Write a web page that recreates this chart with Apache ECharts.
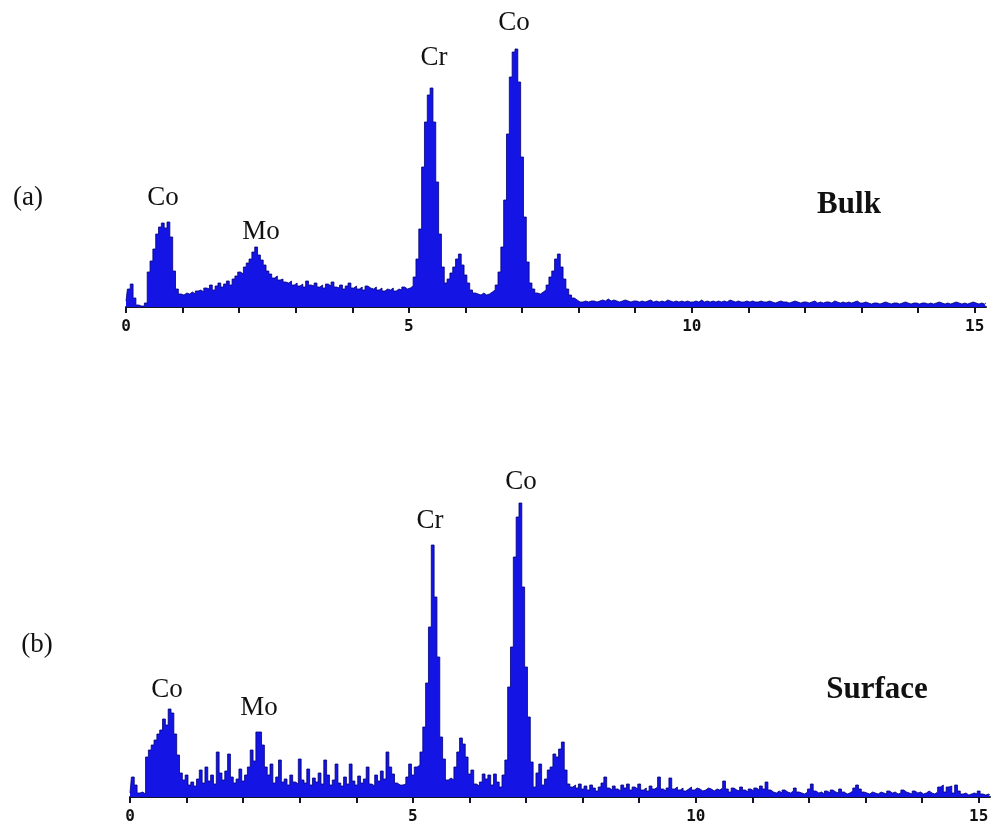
<!DOCTYPE html>
<html lang="en">

<head>
    <meta charset="UTF-8" />
    <title>EDS spectra - Bulk / Surface</title>
    <script src="https://cdn.jsdelivr.net/npm/echarts@6.0.0/dist/echarts.min.js"></script>
    <style>
        html, body { margin: 0; padding: 0; background: #fff; }
        #lienzo { width: 995px; height: 829px; }
    </style>
</head>

<body>
    <div id="lienzo"></div>

    <script>
        // energy channels: 0 to 15.2 keV, one reading every 0.05 keV
        const energyStep = 0.05;
        const tickLabels = [0, 5, 10, 15];
        const tickMarks = [0, 1, 2, 3, 4, 5, 6, 7, 8, 9, 10, 11, 12, 13, 14, 15];

        // (a) Bulk - counts (one row per keV)
        const bulkCounts = [
            6, 18, 23, 9, 2, 1, 1, 4, 35, 46, 58, 73, 80, 84, 79, 85, 70, 36, 18, 13,
            12, 14, 13, 15, 13, 16, 17, 15, 19, 18, 22, 17, 21, 24, 20, 23, 26, 22, 28, 31,
            35, 33, 40, 44, 48, 55, 60, 52, 47, 42, 36, 33, 29, 31, 27, 28, 25, 24, 26, 22,
            24, 21, 23, 20, 26, 22, 21, 24, 20, 22, 19, 23, 21, 25, 20, 19, 22, 18, 21, 24,
            19, 21, 18, 20, 17, 21, 19, 18, 20, 17, 19, 16, 18, 17, 19, 16, 18, 17, 20, 18,
            19, 21, 30, 48, 78, 140, 185, 212, 219, 185, 125, 73, 40, 24, 28, 34, 40, 48, 53, 42,
            32, 24, 17, 14, 13, 12, 14, 12, 13, 15, 17, 22, 35, 60, 107, 173, 230, 255, 258, 225,
            150, 90, 45, 24, 18, 14, 13, 15, 17, 22, 30, 36, 48, 53, 40, 28, 18, 12, 9, 7,
            5, 5, 6, 5, 6, 6, 5, 6, 7, 6, 8, 6, 7, 6, 5, 6, 7, 6, 5, 6,
            6, 5, 6, 5, 6, 7, 5, 6, 5, 6, 5, 7, 6, 5, 6, 5, 6, 5, 6, 5,
            5, 6, 5, 7, 5, 6, 5, 6, 5, 6, 5, 6, 5, 7, 6, 5, 6, 5, 5, 6,
            5, 6, 5, 5, 6, 5, 5, 6, 5, 4, 5, 6, 5, 5, 4, 5, 6, 5, 4, 5,
            5, 4, 5, 6, 4, 5, 4, 5, 5, 4, 6, 5, 4, 5, 4, 5, 4, 5, 6, 4,
            4, 5, 4, 3, 4, 4, 3, 4, 5, 4, 3, 4, 4, 3, 4, 5, 4, 3, 4, 4,
            3, 4, 4, 3, 4, 3, 4, 5, 4, 3, 4, 3, 4, 5, 4, 3, 4, 3, 4, 5,
            4, 3, 4, 3, 4
        ];

        // (b) Surface - counts (one row per keV)
        const surfaceCounts = [
            4, 20, 12, 4, 5, 3, 40, 47, 52, 57, 63, 67, 78, 72, 88, 84, 63, 42, 24, 17,
            22, 12, 15, 11, 18, 27, 14, 30, 16, 22, 13, 45, 24, 17, 26, 43, 20, 14, 18, 28,
            16, 22, 30, 47, 36, 65, 65, 52, 30, 22, 33, 14, 20, 37, 15, 18, 12, 22, 15, 13,
            38, 17, 14, 28, 12, 19, 15, 24, 13, 37, 22, 12, 17, 33, 14, 11, 20, 13, 33, 16,
            12, 21, 14, 18, 30, 13, 11, 22, 16, 26, 18, 45, 30, 23, 14, 12, 12, 13, 20, 33,
            22, 30, 32, 45, 70, 114, 170, 252, 200, 140, 60, 38, 17, 19, 17, 30, 45, 59, 53, 40,
            23, 27, 13, 11, 15, 23, 18, 22, 12, 23, 15, 10, 22, 37, 110, 150, 240, 280, 294, 210,
            130, 80, 35, 10, 24, 33, 12, 18, 27, 30, 43, 40, 48, 55, 27, 13, 10, 12, 9, 13,
            8, 11, 7, 12, 9, 6, 10, 14, 20, 9, 7, 11, 8, 6, 12, 9, 13, 7, 10, 8,
            13, 7, 9, 6, 11, 8, 10, 20, 8, 6, 9, 19, 8, 10, 7, 9, 6, 8, 10, 7,
            9, 8, 6, 7, 9, 8, 6, 8, 7, 9, 16, 8, 5, 9, 7, 6, 10, 7, 5, 8,
            6, 9, 7, 11, 8, 15, 7, 5, 4, 6, 4, 7, 5, 4, 6, 9, 5, 4, 3, 5,
            8, 13, 6, 4, 5, 3, 6, 4, 7, 5, 4, 8, 5, 3, 4, 6, 9, 12, 8, 5,
            4, 3, 5, 4, 3, 5, 4, 3, 6, 4, 5, 3, 4, 7, 5, 4, 3, 6, 4, 5,
            3, 4, 6, 4, 3, 5, 10, 12, 5, 10, 11, 4, 12, 6, 3, 4, 2, 3, 4, 3,
            6, 3, 2, 3, 2
        ];

        function toSpectrum(counts) {
            return counts.map((c, i) => [+(i * energyStep).toFixed(2), c]);
        }

        const azul = '#1414e4';
        const azulOscuro = '#00007a';
        const serif = '"Liberation Serif", "DejaVu Serif", serif';

        function ejeX(gridIndex) {
            return {
                type: 'value',
                gridIndex: gridIndex,
                min: 0,
                max: 15.2,
                interval: 1,
                axisLine: { show: true, onZero: false, lineStyle: { color: '#15152a', width: 2 } },
                axisTick: { show: true, length: 6, customValues: tickMarks, lineStyle: { color: '#15152a', width: 2 } },
                axisLabel: {
                    customValues: tickLabels,
                    margin: 12,
                    color: '#111',
                    fontFamily: '"DejaVu Sans Mono", monospace',
                    fontWeight: 'bold',
                    fontSize: 16
                },
                splitLine: { show: false }
            };
        }

        function ejeY(gridIndex) {
            return {
                type: 'value',
                gridIndex: gridIndex,
                min: 0,
                max: 300,
                show: false,
                splitLine: { show: false }
            };
        }

        function serie(idx, counts) {
            return {
                type: 'line',
                xAxisIndex: idx,
                yAxisIndex: idx,
                step: 'middle',
                symbol: 'none',
                silent: true,
                lineStyle: { color: azulOscuro, width: 0.8 },
                areaStyle: { color: azul, opacity: 1 },
                data: toSpectrum(counts)
            };
        }

        function etiqueta(text, x, y, size, bold) {
            return {
                type: 'text',
                x: x,
                y: y,
                style: {
                    text: text,
                    fill: '#111',
                    font: (bold ? 'bold ' : '') + size + 'px ' + serif,
                    align: 'center',
                    verticalAlign: 'middle',
                    textAlign: 'center',
                    textVerticalAlign: 'middle'
                }
            };
        }

        let myChart = echarts.init(document.getElementById('lienzo'), null, { renderer: 'canvas' });

        myChart.setOption({
            animation: false,
            backgroundColor: '#fff',
            grid: [
                { left: 126, right: 9, top: 7, bottom: 522, containLabel: false, outerBoundsMode: 'none' },
                { left: 130, right: 5, top: 497, bottom: 32, containLabel: false, outerBoundsMode: 'none' }
            ],
            xAxis: [ejeX(0), ejeX(1)],
            yAxis: [ejeY(0), ejeY(1)],
            series: [serie(0, bulkCounts), serie(1, surfaceCounts)],
            graphic: [
                etiqueta('(a)', 28, 198, 27, false),
                etiqueta('Co', 163, 198, 27, false),
                etiqueta('Mo', 261, 232, 27, false),
                etiqueta('Cr', 434, 58, 27, false),
                etiqueta('Co', 514, 23, 27, false),
                etiqueta('Bulk', 849, 205, 31, true),
                etiqueta('(b)', 37, 645, 27, false),
                etiqueta('Co', 167, 690, 27, false),
                etiqueta('Mo', 259, 708, 27, false),
                etiqueta('Cr', 430, 521, 27, false),
                etiqueta('Co', 521, 482, 27, false),
                etiqueta('Surface', 877, 690, 31, true)
            ]
        });
    </script>
</body>

</html>
